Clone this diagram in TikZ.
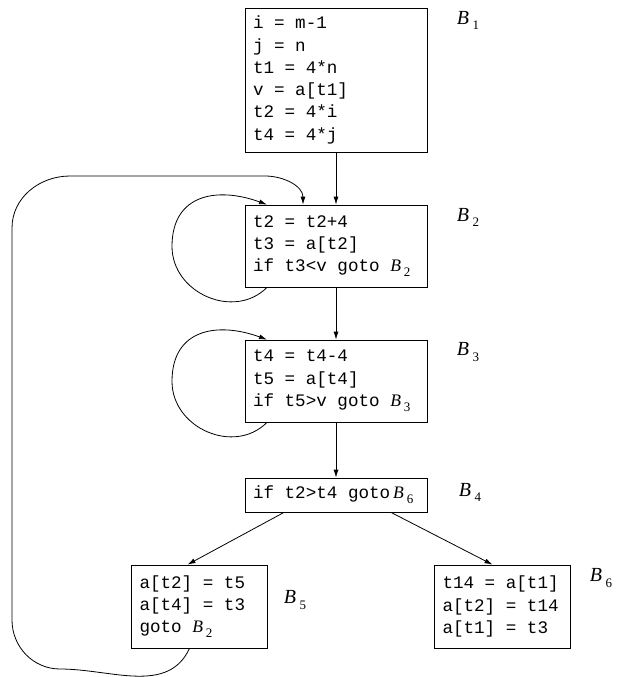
\documentclass[tikz,border=0pt]{standalone}
\usepackage{fontspec}
\setmainfont{Liberation Serif}
\newfontfamily\codefont{Liberation Mono}
\usetikzlibrary{arrows.meta}
\newcommand{\blk}[1]{{\rmfamily\itshape B}\,\raisebox{-0.55ex}{\fontsize{13}{13}\selectfont\rmfamily #1}}
\newcommand{\codesize}{\codefont\fontsize{17.6}{22.3}\selectfont}
\newcommand{\wsp}{\hspace{0.6em}}

\begin{document}
\begin{tikzpicture}[
  x=1pt, y=-1pt,
  >={Latex[length=8pt,width=5pt]},
  line width=0.8pt,
  code box/.style={rectangle,draw,inner xsep=8pt,inner ysep=4pt,font=\codesize},
  wide box/.style={code box,text width=166pt},
  narrow box/.style={code box,text width=120pt},
  block label/.style={inner sep=0pt,font=\fontsize{20}{20}\selectfont},
]
\useasboundingbox (0,0) rectangle (616,677);
\node[wide box,minimum height=144pt] (b1) at (336,80) {i\wsp=\wsp m-1\\j\wsp=\wsp n\\t1\wsp=\wsp 4*n\\v\wsp=\wsp a[t1]\\t2\wsp=\wsp 4*i\\t4\wsp=\wsp 4*j};
\node[wide box,minimum height=82pt] (b2) at (336,246) {t2\wsp=\wsp t2+4\\t3\wsp=\wsp a[t2]\\if\wsp t3<v\wsp goto\wsp\blk{2}};
\node[wide box,minimum height=82pt] (b3) at (336,381) {t4\wsp=\wsp t4-4\\t5\wsp=\wsp a[t4]\\if\wsp t5>v\wsp goto\wsp\blk{3}};
\node[wide box,minimum height=34pt] (b4) at (336,495) {if\wsp t2>t4\wsp goto\,\blk{6}};
\node[narrow box,minimum height=83pt] (b5) at (199.5,606.5) {a[t2]\wsp=\wsp t5\\a[t4]\wsp=\wsp t3\\goto\wsp\blk{2}};
\node[narrow box,minimum height=83pt] (b6) at (502.5,606.5) {t14\wsp=\wsp a[t1]\\a[t2]\wsp=\wsp t14\\a[t1]\wsp=\wsp t3};
\node[block label] (l1) at (468,20) {\blk{1}};
\node[block label] (l2) at (468,217) {\blk{2}};
\node[block label] (l3) at (468,352) {\blk{3}};
\node[block label] (l4) at (470,492) {\blk{4}};
\node[block label] (l5) at (295,600) {\blk{5}};
\node[block label] (l6) at (601,578) {\blk{6}};
\draw[->] (b1) -- (b2);
\draw[->] (b2) -- (b3);
\draw[->] (b3) -- (b4);
\draw[->] ([xshift=-52]b4.south) -- ([xshift=-12]b5.north);
\draw[->] ([xshift=55]b4.south) -- ([xshift=-10]b6.north);
\draw[->] ([xshift=-69]b2.south) to[out=-135,in=-90,looseness=1.15] +(-95,-41)
  to[out=90,in=160,looseness=1.3] ([xshift=-69]b2.north);
\draw[->] ([xshift=-69]b3.south) to[out=-135,in=-90,looseness=1.15] +(-95,-41)
  to[out=90,in=160,looseness=1.3] ([xshift=-69]b3.north);
\draw[->] ([xshift=-10]b5.south) to[out=-115,in=0] (60,669) to[out=180,in=-90] (12,620)
  -- (12,228) to[out=90,in=180] (70,176) -- (265,176) to[out=0,in=90] ([xshift=-33]b2.north);
\end{tikzpicture}
\end{document}
